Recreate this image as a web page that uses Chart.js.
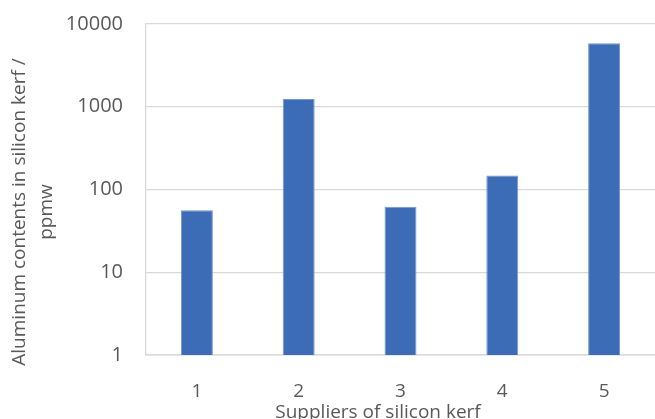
<!DOCTYPE html>
<html lang="en">
<head>
  <meta charset="UTF-8">
  <title>Aluminum contents in silicon kerf</title>
  <script src="https://cdn.jsdelivr.net/npm/chart.js"></script>
  <style>
    body {
      margin: 0;
      background: #fff;
    }
    .chart-box {
      position: relative;
      width: 655px;
      height: 419px;
    }
  </style>
</head>
<body>
  <div class="chart-box">
    <canvas id="kerfChart"></canvas>
  </div>

  <script>
    const suppliers = ['1', '2', '3', '4', '5'];
    const aluminumPpmw = [56, 1240, 62, 148, 5870];
    const yTickValues = [1, 10, 100, 1000, 10000];
    const yTitleLines = ['Aluminum contents in silicon kerf /', 'ppmw'];
    const xTitle = 'Suppliers of silicon kerf';

    const textColor = '#595959';
    const gridColor = '#d9d9d9';
    const fontFamily = "'Open Sans', sans-serif";

    // axis titles sit off-centre in the original, so draw them by hand
    const axisTitles = {
      id: 'axisTitles',
      afterDraw(chart) {
        const ctx = chart.ctx;
        ctx.save();
        ctx.fillStyle = textColor;
        ctx.font = `19px ${fontFamily}`;
        ctx.textAlign = 'center';
        ctx.textBaseline = 'middle';

        ctx.save();
        ctx.translate(20, 212);
        ctx.rotate(-Math.PI / 2);
        yTitleLines.forEach((line, i) => ctx.fillText(line, 0, i * 27));
        ctx.restore();

        ctx.fillText(xTitle, 378, 413);
        ctx.restore();
      }
    };

    new Chart(document.getElementById('kerfChart'), {
      type: 'bar',
      data: {
        labels: suppliers,
        datasets: [{
          data: aluminumPpmw,
          backgroundColor: '#3c6cb5',
          borderColor: '#7196d2',
          borderWidth: 1,
          categoryPercentage: 1,
          barPercentage: 0.314
        }]
      },
      options: {
        responsive: true,
        maintainAspectRatio: false,
        animation: false,
        layout: { padding: { top: 24, right: 0, left: 0, bottom: 0 } },
        plugins: {
          legend: { display: false },
          tooltip: { enabled: false }
        },
        scales: {
          x: {
            afterFit: s => { s.height = 64; },
            grid: { display: false },
            border: { display: true, color: gridColor, width: 1.5 },
            ticks: {
              color: textColor,
              padding: 17,
              font: { family: fontFamily, size: 19 }
            }
          },
          y: {
            type: 'logarithmic',
            min: 1,
            max: 10000,
            afterFit: s => {
              s.width = 146;
              // tick padding otherwise pushes the plot top down
              s.paddingTop = 0;
              s.paddingBottom = 0;
            },
            afterBuildTicks: s => { s.ticks = yTickValues.map(v => ({ value: v })); },
            grid: { color: gridColor, lineWidth: 1.3, drawTicks: false },
            border: { display: true, color: gridColor, width: 1.3 },
            ticks: {
              color: textColor,
              padding: 23,
              font: { family: fontFamily, size: 20 },
              callback: v => String(v)
            }
          }
        }
      },
      plugins: [axisTitles]
    });
  </script>
</body>
</html>
